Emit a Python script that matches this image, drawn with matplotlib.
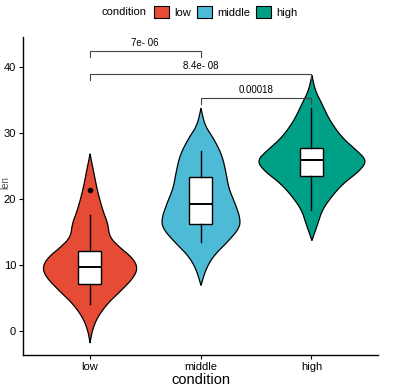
import numpy as np
import matplotlib
matplotlib.use('Agg')
import matplotlib.pyplot as plt
from matplotlib.patches import Patch

plt.rcParams.update({
    'font.family': ['Liberation Sans', 'DejaVu Sans'],
    'font.size': 8,
    'axes.spines.top': False, 'axes.spines.right': False,
})

# ---- data ----
conditions = ['low', 'middle', 'high']
colors = ['#E64B35', '#4DBBD5', '#00A087']

# violin outlines: y levels and relative density (1 = widest possible)
low_y = [-1.7, 0.15, 2.1, 4.2, 6.2, 8.2, 9.7, 11.2, 12.7, 14.3, 16.4, 18.3, 21.4, 24.4, 26.9]
low_d = [0, 0.04, 0.13, 0.31, 0.56, 0.79, 0.86, 0.76, 0.54, 0.35, 0.32, 0.23, 0.13, 0.06, 0]
mid_y = [7.0, 9.5, 11.5, 13.5, 15.6, 17.1, 19.5, 21.7, 24.1, 26.7, 29.2, 31.2, 33.8]
mid_d = [0, 0.09, 0.23, 0.47, 0.69, 0.71, 0.61, 0.50, 0.45, 0.38, 0.23, 0.07, 0]
high_y = [13.8, 16.4, 18.3, 20.3, 22.4, 24.4, 25.9, 27.4, 29.4, 32.0, 34.5, 36.5, 38.8]
high_d = [0, 0.11, 0.18, 0.34, 0.56, 0.87, 0.99, 0.81, 0.54, 0.32, 0.18, 0.06, 0]

# box statistics
q1 = [7.1, 16.2, 23.5]
med = [9.65, 19.2, 25.9]
q3 = [12.1, 23.3, 27.7]
whis_lo = [4.1, 13.5, 18.3]
whis_hi = [17.5, 27.2, 33.8]
outliers = [[21.4], [], []]

# pairwise comparisons (group a, group b, bracket height, label)
comp_a = [1, 1, 2]
comp_b = [2, 3, 3]
comp_h = [42.4, 38.9, 35.3]
comp_lab = ['7e- 06', '8.4e- 08', '0.00018']


def smooth_outline(y, d, n_iter=3):
    # Chaikin corner cutting, endpoints kept, only for a rounder drawn outline
    pts = np.column_stack([d, y]).astype(float)
    for _ in range(n_iter):
        q = 0.75 * pts[:-1] + 0.25 * pts[1:]
        r = 0.25 * pts[:-1] + 0.75 * pts[1:]
        mid = np.empty((2 * len(q), 2))
        mid[0::2] = q
        mid[1::2] = r
        pts = np.vstack([pts[:1], mid, pts[-1:]])
    return pts[:, 1], pts[:, 0]


# ---- figure ----
fig = plt.figure(figsize=(4.17, 3.91), dpi=100)
ax = fig.add_axes([23/417, 36/391, 355/417, 318/391])

half_w = 0.5
for i, (yy, dd) in enumerate([(low_y, low_d), (mid_y, mid_d), (high_y, high_d)]):
    ys, ds = smooth_outline(yy, dd)
    ds = ds * half_w
    pos = i + 1
    ax.fill_betweenx(ys, pos - ds, pos + ds, facecolor=colors[i],
                     edgecolor='black', linewidth=0.9, zorder=2)

stats = []
for i in range(3):
    stats.append(dict(med=med[i], q1=q1[i], q3=q3[i], whislo=whis_lo[i],
                      whishi=whis_hi[i], fliers=outliers[i]))
ax.bxp(stats, positions=[1, 2, 3], widths=0.2, patch_artist=True,
       showcaps=False, manage_ticks=False,
       boxprops=dict(facecolor='white', edgecolor='black', linewidth=1.0),
       medianprops=dict(color='black', linewidth=1.4),
       whiskerprops=dict(color='black', linewidth=1.0),
       flierprops=dict(marker='o', markerfacecolor='black', markeredgecolor='black',
                       markersize=3),
       zorder=3)

tip = 0.9
for a, b, h, lab in zip(comp_a, comp_b, comp_h, comp_lab):
    ax.plot([a, a, b, b], [h - tip, h, h, h - tip], color='#444444', lw=0.8, zorder=4)
    ax.text((a + b) / 2, h + 0.5, lab, ha='center', va='bottom', fontsize=7, color='black')

ax.set_xlim(0.4, 3.6)
ax.set_ylim(-3.64, 44.55)
ax.set_xticks([1, 2, 3])
ax.set_xticklabels(conditions)
ax.set_yticks([0, 10, 20, 30, 40])
ax.tick_params(direction='out', length=3, width=0.8, pad=2, labelsize=8, colors='black')
for s in ['left', 'bottom']:
    ax.spines[s].set_linewidth(1.0)
ax.set_xlabel('condition', fontsize=10.5, labelpad=1)

# y title squeezed into the narrow left margin
fig.text(0.5/417, 1 - 183/391, 'len', rotation=90, ha='left', va='center',
         fontsize=7, color='#555555')

handles = [Patch(facecolor=c, edgecolor='black', linewidth=0.8) for c in colors]
fig.legend(handles, conditions, ncol=3, loc='center', bbox_to_anchor=(0.542, 1 - 12/391),
           frameon=False, fontsize=8, handlelength=1.35, handleheight=1.35,
           handletextpad=0.5, columnspacing=0.5, borderpad=0)
fig.text(147/417, 1 - 12/391, 'condition', ha='right', va='center', fontsize=8)

fig.savefig('out.png', dpi=100)
